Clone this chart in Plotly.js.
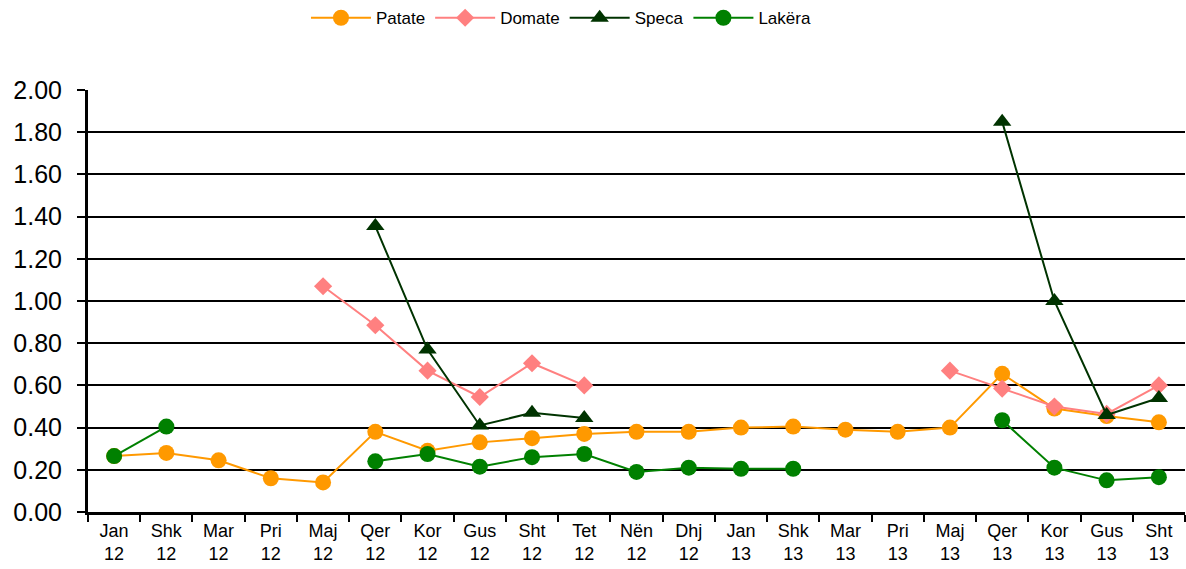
<!DOCTYPE html>
<html>
<head>
<meta charset="utf-8">
<script src="https://cdn.plot.ly/plotly-3.0.1.min.js"></script>
<style>html,body{margin:0;padding:0;background:#fff;}#chart{width:1186px;height:569px;}</style>
</head>
<body>
<div id="chart"></div>
<script>
var months = ["Jan<br>12","Shk<br>12","Mar<br>12","Pri<br>12","Maj<br>12","Qer<br>12","Kor<br>12","Gus<br>12","Sht<br>12","Tet<br>12","Nën<br>12","Dhj<br>12","Jan<br>13","Shk<br>13","Mar<br>13","Pri<br>13","Maj<br>13","Qer<br>13","Kor<br>13","Gus<br>13","Sht<br>13"];
var patate = [0.265,0.28,0.245,0.16,0.14,0.38,0.29,0.33,0.35,0.37,0.38,0.38,0.40,0.405,0.39,0.38,0.40,0.655,0.49,0.455,0.425];
var domate = [null,null,null,null,1.07,0.885,0.67,0.545,0.705,0.60,null,null,null,null,null,null,0.67,0.585,0.50,0.465,0.60];
var speca  = [null,null,null,null,null,1.355,0.77,0.41,0.47,0.445,null,null,null,null,null,null,null,1.85,1.00,0.46,0.54];
var lakera = [0.265,0.405,null,null,null,0.24,0.275,0.215,0.26,0.275,0.19,0.21,0.205,0.205,null,null,null,0.435,0.21,0.15,0.165];
var yTicks = [0,0.2,0.4,0.6,0.8,1.0,1.2,1.4,1.6,1.8,2.0];

function tr(name, y, color, symbol, size){
  return {type:'scatter', mode:'lines+markers', name:name, x:months, y:y,
    line:{color:color, width:2}, marker:{color:color, symbol:symbol, size:size},
    connectgaps:false};
}
var data = [
  tr('Patate', patate, '#FF9900', 'circle', 16),
  tr('Domate', domate, '#FF8080', 'diamond', 14),
  tr('Speca', speca, '#003300', 'triangle-up', 16),
  tr('Lakëra', lakera, '#008000', 'circle', 16)
];
var layout = {
  width:1186, height:569,
  margin:{l:88, r:1, t:90, b:57},
  paper_bgcolor:'#fff', plot_bgcolor:'#fff',
  font:{family:'Liberation Sans, Arial, sans-serif', color:'#000'},
  showlegend:true,
  legend:{orientation:'h', x:0.473, xref:'container', xanchor:'center', y:0.968, yref:'container', yanchor:'middle',
    font:{size:17}, itemwidth:60, traceorder:'normal'},
  xaxis:{type:'category', tickson:'boundaries', ticks:'outside', ticklen:7, tickwidth:2, tickcolor:'#000',
    showline:true, linecolor:'#000', linewidth:3, showgrid:false, tickfont:{size:18}, fixedrange:true, range:[-0.5,20.5]},
  yaxis:{range:[0,2.0], tickvals:yTicks, ticktext:yTicks.map(function(v){return v.toFixed(2);}),
    ticks:'outside', ticklen:8, tickwidth:2, tickcolor:'#000', ticklabelstandoff:10,
    showline:true, linecolor:'#000', linewidth:3, showgrid:true, gridcolor:'#000', gridwidth:2,
    zeroline:false, tickfont:{size:25}, fixedrange:true}
};
Plotly.newPlot('chart', data, layout, {displayModeBar:false, staticPlot:true});
</script>
</body>
</html>
